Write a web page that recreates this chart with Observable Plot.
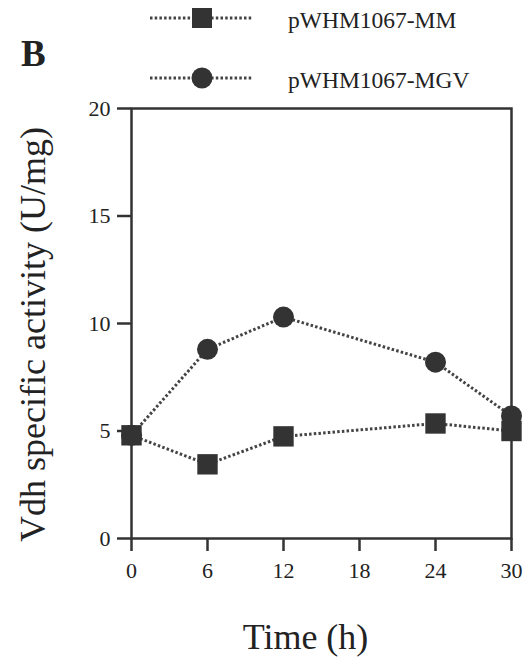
<!DOCTYPE html>
<html><head><meta charset="utf-8">
<script src="https://cdn.jsdelivr.net/npm/d3@7"></script>
<script src="https://cdn.jsdelivr.net/npm/@observablehq/plot@0.6"></script>
<style>
body{margin:0;background:#fff;font-family:"Liberation Serif",serif;}
#wrap{position:relative;width:532px;height:661px;}
#leg{position:absolute;left:0;top:0;}
</style></head><body>
<div id="wrap"></div>
<script>
const times = [0, 6, 12, 24, 30];
const mmValues = [4.8, 3.45, 4.75, 5.35, 5.0];
const mgvValues = [4.8, 8.8, 10.3, 8.2, 5.7];
const seriesNames = ["pWHM1067-MM", "pWHM1067-MGV"];
const xTicks = [0, 6, 12, 18, 24, 30];
const yTicks = [0, 5, 10, 15, 20];

const mm = times.map((t, i) => ({t, v: mmValues[i]}));
const mgv = times.map((t, i) => ({t, v: mgvValues[i]}));
const ink = "#333";
const lineStyle = {x: "t", y: "v", stroke: "#444", strokeWidth: 3, strokeDasharray: "2.5,2.2", strokeLinecap: "butt"};

const chart = Plot.plot({
  width: 532, height: 661,
  marginLeft: 131, marginRight: 21, marginTop: 108, marginBottom: 123,
  style: {fontFamily: "Liberation Serif, serif", background: "#fff", color: "#222"},
  x: {domain: [0, 30]},
  y: {domain: [0, 20]},
  marks: [
    Plot.frame({stroke: ink, strokeWidth: 2.5}),
    Plot.axisX({ticks: xTicks, tickSize: 13, tickPadding: 11, fontSize: 22, stroke: ink, strokeWidth: 2.5, fill: "#222", label: null}),
    Plot.axisY({ticks: yTicks, tickSize: 14, tickPadding: 7, fontSize: 22, stroke: ink, strokeWidth: 2.5, fill: "#222", label: null}),
    Plot.text(["Time (h)"], {frameAnchor: "bottom", lineAnchor: "middle", dx: -16, dy: 99, fontSize: 36, fill: "#222"}),
    Plot.text(["Vdh specific activity (U/mg)"], {frameAnchor: "left", textAnchor: "middle", lineAnchor: "middle", dx: -98, dy: 11, rotate: -90, fontSize: 36, fill: "#222"}),
    Plot.line(mgv, lineStyle),
    Plot.line(mm, lineStyle),
    Plot.dot(mgv, {x: "t", y: "v", symbol: "circle", r: 10.5, fill: ink}),
    Plot.dot(mm, {x: "t", y: "v", symbol: "square", r: 11.5, fill: ink})
  ]
});
document.getElementById("wrap").appendChild(chart);

// Legend
const ns = "http://www.w3.org/2000/svg";
const leg = document.createElementNS(ns, "svg");
leg.setAttribute("id", "leg");
leg.setAttribute("width", 532); leg.setAttribute("height", 100);
const rows = [{name: seriesNames[0], y: 18, sym: "square"}, {name: seriesNames[1], y: 78, sym: "circle"}];
let h = "";
rows.forEach(r => {
  h += `<line x1="150" x2="253" y1="${r.y}" y2="${r.y}" stroke="#444" stroke-width="3" stroke-dasharray="2.5,2.2"/>`;
  if (r.sym === "square") h += `<rect x="192" y="${r.y-10}" width="20" height="20" fill="${ink}"/>`;
  else h += `<circle cx="202" cy="${r.y}" r="10.5" fill="${ink}"/>`;
  h += `<text x="288" y="${r.y+9.5}" font-size="23.5" fill="#222" font-family="Liberation Serif, serif">${r.name}</text>`;
});
h += `<text x="21" y="66" font-size="37" font-weight="bold" fill="#222" font-family="Liberation Serif, serif">B</text>`;
leg.innerHTML = h;
document.getElementById("wrap").appendChild(leg);
</script>
</body></html>
